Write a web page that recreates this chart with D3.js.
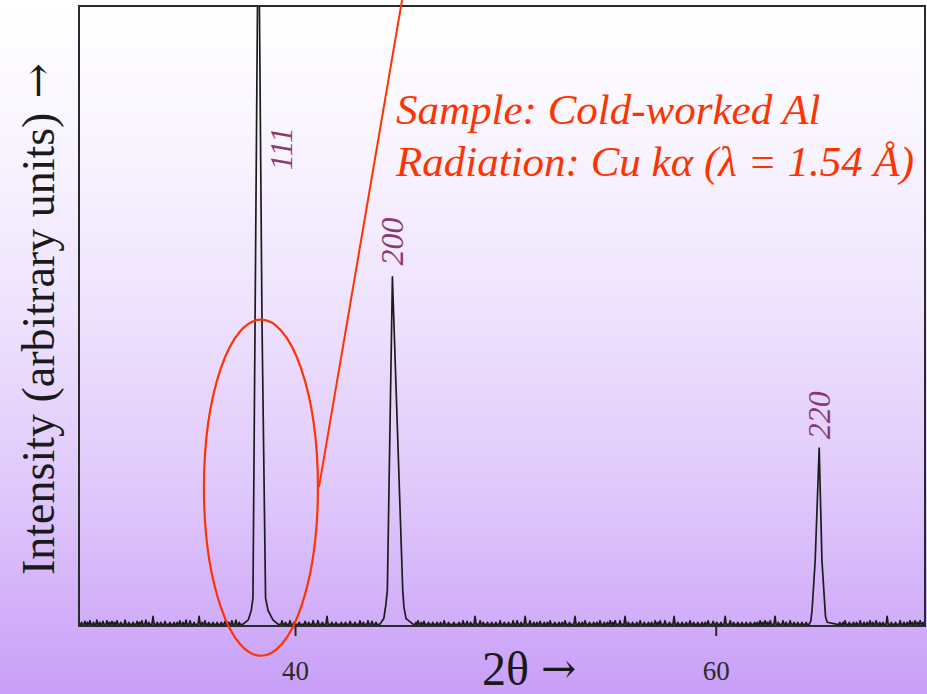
<!DOCTYPE html>
<html>
<head>
<meta charset="utf-8">
<script src="https://cdn.jsdelivr.net/npm/d3@7/dist/d3.min.js"></script>
<style>
html,body{margin:0;padding:0;overflow:hidden;}
svg{display:block;}
</style>
</head>
<body>
<svg id="chart" width="927" height="694"></svg>
<script>
// ---------- data ----------
const xDomain = [29.73, 69.95];
const yDomain = [0, 100];
const xTicks = [40, 60];
const xTickLabels = ["40", "60"];
const peakLabels = ["111", "200", "220"];
const peakPositions = [38.26, 44.63, 64.92];
const peakLabelIntensity = [77, 62, 34];
const peakLabelOffset = [1.05, 0, 0];

// peak profiles [2θ, intensity]
const peak111 = [[37.53,0.3],[37.78,1.0],[37.92,2.5],[38.00,4.5],[38.10,49],[38.26,120],[38.43,49],[38.60,4.5],[38.72,2.5],[38.95,1.0],[39.19,0.3]];
const peak200 = [[44.04,0.3],[44.22,1.2],[44.32,3.5],[44.39,5.8],[44.63,56.3],[45.12,5.8],[45.18,3.0],[45.28,1.2],[45.61,0.3]];
const peak220 = [[64.45,0.3],[64.52,0.8],[64.58,2.5],[64.73,10.6],[64.92,28.7],[65.05,10.6],[65.22,1.5],[65.30,0.6],[65.73,0.3]];

// baseline noise spikes (larger)
const spikePositions = [30.01,30.25,30.58,30.87,31.06,31.30,31.54,31.92,32.49,32.72,32.91,33.25,33.82,34.53,34.82,35.01,35.44,35.72,36.67,37.00,37.19,39.38,39.76,40.48,40.86,41.09,41.52,42.62,43.09,43.47,43.66,45.85,46.13,47.09,47.99,48.18,48.56,48.80,49.75,50.37,50.56,50.94,51.17,51.65,52.13,52.84,53.31,53.79,54.50,54.98,55.22,55.45,55.69,56.41,57.12,57.36,57.59,58.02,58.78,59.64,59.88,60.45,60.69,62.11,62.35,62.59,62.82,63.20,63.54,65.77,66.15,66.87,67.34,67.63,68.15,68.77,69.24,69.48,69.72];
const spikeHeights   = [0.5,0.6,0.7,0.5,0.6,0.5,0.6,0.7,0.5,0.6,0.7,1.3,0.5,0.6,0.7,0.6,1.3,0.6,0.5,0.6,0.7,0.6,0.6,0.5,0.6,0.6,1.3,0.5,0.6,0.6,0.5,0.6,0.5,0.6,0.6,0.5,1.3,0.6,0.6,0.6,0.6,1.3,0.6,0.5,0.6,0.6,1.3,0.6,0.6,0.6,0.6,0.6,1.3,0.6,0.6,0.6,0.6,1.3,0.6,0.6,0.5,1.3,0.6,0.6,0.6,0.6,1.3,0.6,0.6,1.3,0.6,0.6,0.6,0.6,1.3,0.6,0.6,0.6,0.6];
// baseline grass (small)
const grassPositions = [29.85,30.13,30.42,30.72,31.18,31.42,31.72,32.10,32.30,32.60,33.05,33.45,33.62,34.05,34.25,34.40,34.68,35.20,35.58,35.90,36.10,36.30,36.50,36.85,37.35,39.55,39.95,40.20,40.65,41.30,41.75,41.95,42.20,42.40,42.85,43.25,43.85,45.75,46.00,46.35,46.55,46.75,46.92,47.30,47.55,47.80,48.35,48.95,49.15,49.35,49.55,49.95,50.15,50.75,51.35,51.50,51.85,52.00,52.35,52.55,52.70,53.05,53.50,53.65,54.00,54.20,54.35,54.70,54.85,55.10,55.85,56.05,56.25,56.60,56.80,56.95,57.25,57.80,58.20,58.40,58.60,58.95,59.15,59.35,59.50,60.05,60.25,60.85,61.05,61.25,61.45,61.65,61.85,61.98,62.23,62.47,62.98,63.35,63.72,63.90,64.10,64.30,65.90,66.05,66.35,66.55,66.70,67.05,67.20,67.48,67.80,67.95,68.35,68.55,68.95,69.10,69.35,69.60,69.85];
const grassHeight = 0.35;
const baseLevel = 0.25;

// annotation (data units)
const ellipseCenter = [38.38, 22.3];
const ellipseRadii = [2.71, 27.1];
const pointerStart = [41.14, 22.4];
const pointerEnd = [45.09, 101];
const annotationLines = ["Sample: Cold-worked Al", "Radiation: Cu k\u03b1 (\u03bb = 1.54 \u00c5)"];

// ---------- layout ----------
const W = 927, H = 694;
const plot = {left: 79, top: 6, right: 925, bottom: 626};
const svg = d3.select("#chart");

const defs = svg.append("defs");
const grad = defs.append("linearGradient").attr("id","bg").attr("x1",0).attr("y1",0).attr("x2",0).attr("y2",1);
[["0%","#ffffff"],["20%","#f9f5ff"],["45%","#eee2fd"],["70%","#e0c9fb"],["100%","#c99ff8"]]
  .forEach(s => grad.append("stop").attr("offset",s[0]).attr("stop-color",s[1]));
defs.append("clipPath").attr("id","clip").append("rect")
  .attr("x",plot.left).attr("y",plot.top)
  .attr("width",plot.right-plot.left).attr("height",plot.bottom-plot.top);

svg.append("rect").attr("width",W).attr("height",H).attr("fill","url(#bg)");

const x = d3.scaleLinear().domain(xDomain).range([plot.left, plot.right]);
const y = d3.scaleLinear().domain(yDomain).range([plot.bottom, plot.top]);

// build spectrum
const peaks = [peak111, peak200, peak220];
const segments = peaks.map(p => p.slice());
const inPeak = s => peaks.some(p => s > p[0][0] - 0.06 && s < p[p.length-1][0] + 0.06);
spikePositions.forEach((s, i) => {
  if (!inPeak(s)) segments.push([[s-0.05, baseLevel],[s, baseLevel+spikeHeights[i]],[s+0.05, baseLevel]]);
});
grassPositions.forEach(s => {
  if (!inPeak(s)) segments.push([[s-0.04, baseLevel],[s, baseLevel+grassHeight],[s+0.04, baseLevel]]);
});
segments.sort((a,b) => a[0][0]-b[0][0]);
const spectrum = [[xDomain[0], baseLevel]];
segments.forEach(seg => seg.forEach(pt => spectrum.push(pt)));
spectrum.push([xDomain[1], baseLevel]);

const line = d3.line().x(d => x(d[0])).y(d => y(d[1]));
svg.append("path").attr("clip-path","url(#clip)")
  .datum(spectrum).attr("d", line)
  .attr("fill","none").attr("stroke","#1c1c1c").attr("stroke-width",1.7)
  .attr("stroke-linejoin","round");

// frame
svg.append("rect").attr("x",plot.left).attr("y",plot.top)
  .attr("width",plot.right-plot.left).attr("height",plot.bottom-plot.top)
  .attr("fill","none").attr("stroke","#2a2a2a").attr("stroke-width",2);

// x axis ticks
const xAxis = d3.axisBottom(x).tickValues(xTicks).tickSize(10).tickSizeOuter(0)
  .tickFormat((d,i) => xTickLabels[i]);
const gx = svg.append("g").attr("transform",`translate(0,${plot.bottom})`).call(xAxis);
gx.select(".domain").remove();
gx.selectAll(".tick line").attr("stroke","#2a2a2a").attr("stroke-width",2);
gx.selectAll(".tick text").attr("y",54).attr("dy",0)
  .attr("font-family","'Liberation Serif', serif").attr("font-size",27).attr("fill","#2a2a2a");

// axis titles
const xt = svg.append("text").attr("x",482).attr("y",685)
  .attr("font-family","'Liberation Serif', serif").attr("font-size",48).attr("fill","#1a1a1a");
xt.append("tspan").text("2\u03b8");
xt.append("tspan").attr("font-family","'DejaVu Serif', serif").attr("font-size",42)
  .attr("dx",12).attr("dy",-2).text("\u2192");

const yt = svg.append("text").attr("transform","translate(54,575) rotate(-90)")
  .attr("font-family","'Liberation Serif', serif").attr("font-size",46).attr("fill","#1a1a1a");
yt.append("tspan").text("Intensity (arbitrary units)");
yt.append("tspan").attr("font-family","'DejaVu Serif', serif").attr("font-size",42)
  .attr("dx",14).attr("dy",-2).text("\u2192");

// peak labels
svg.selectAll(".plabel").data(peakLabels).enter().append("text")
  .attr("class","plabel")
  .attr("transform",(d,i) => `translate(${x(peakPositions[i]+peakLabelOffset[i])},${y(peakLabelIntensity[i])}) rotate(-90)`)
  .attr("text-anchor","middle").attr("dominant-baseline","central")
  .attr("font-family","'Liberation Serif', serif").attr("font-style","italic")
  .attr("font-size",32).attr("fill","#8b3a70")
  .text(d => d);

// annotation
const red = "#ff3300";
svg.append("ellipse")
  .attr("cx",x(ellipseCenter[0])).attr("cy",y(ellipseCenter[1]))
  .attr("rx",x(ellipseCenter[0]+ellipseRadii[0])-x(ellipseCenter[0]))
  .attr("ry",y(0)-y(ellipseRadii[1]))
  .attr("fill","none").attr("stroke",red).attr("stroke-width",2.2);
svg.append("line")
  .attr("x1",x(pointerStart[0])).attr("y1",y(pointerStart[1]))
  .attr("x2",x(pointerEnd[0])).attr("y2",y(pointerEnd[1]))
  .attr("stroke",red).attr("stroke-width",2);
svg.selectAll(".anno").data(annotationLines).enter().append("text")
  .attr("class","anno").attr("x",396).attr("y",(d,i) => 124 + i*52)
  .attr("font-family","'Liberation Serif', serif").attr("font-style","italic")
  .attr("font-size",43).attr("fill",red)
  .text(d => d);
</script>
</body>
</html>
